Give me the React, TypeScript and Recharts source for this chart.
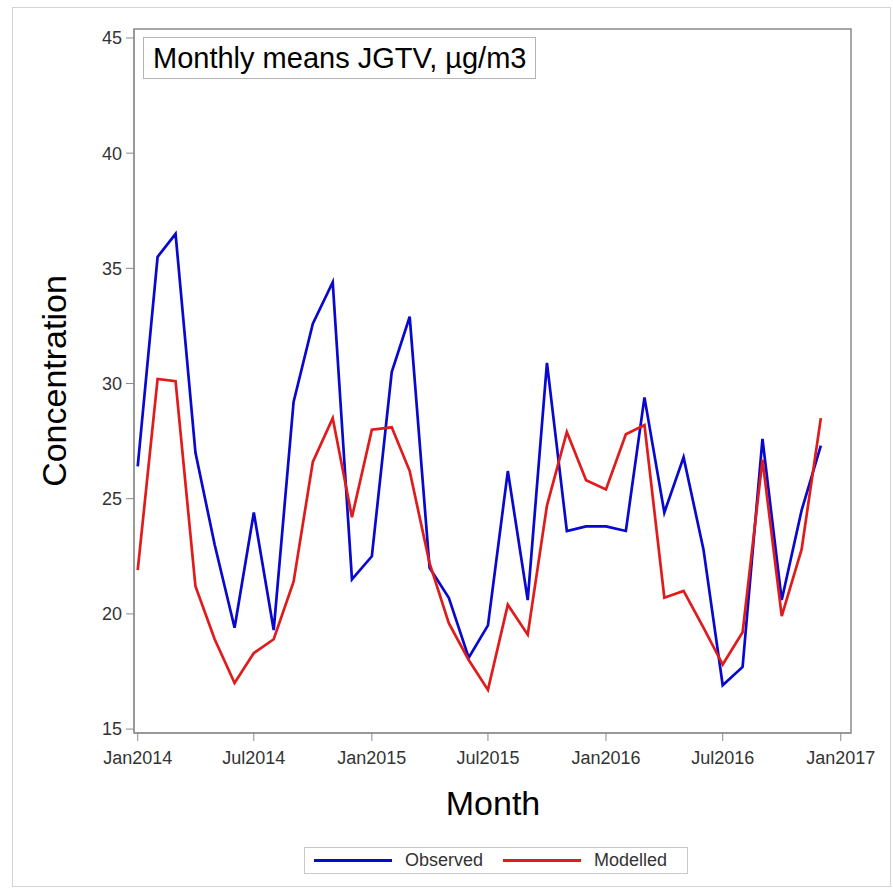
import { LineChart, Line, XAxis, YAxis, ReferenceArea, Legend } from 'recharts'

// monthly means, first of each month
const MONTHS = [
  '2014-01', '2014-02', '2014-03', '2014-04', '2014-05', '2014-06',
  '2014-07', '2014-08', '2014-09', '2014-10', '2014-11', '2014-12',
  '2015-01', '2015-02', '2015-03', '2015-04', '2015-05', '2015-06',
  '2015-07', '2015-08', '2015-09', '2015-10', '2015-11', '2015-12',
  '2016-01', '2016-02', '2016-03', '2016-04', '2016-05', '2016-06',
  '2016-07', '2016-08', '2016-09', '2016-10', '2016-11', '2016-12',
]

const OBSERVED = [
  26.4, 35.5, 36.5, 27.0, 23.0, 19.4, 24.4, 19.3, 29.2, 32.6, 34.4, 21.5,
  22.5, 30.5, 32.9, 22.0, 20.7, 18.1, 19.5, 26.2, 20.6, 30.9, 23.6, 23.8,
  23.8, 23.6, 29.4, 24.4, 26.8, 22.8, 16.9, 17.7, 27.6, 20.6, 24.5, 27.3,
]

const MODELLED = [
  21.9, 30.2, 30.1, 21.2, 18.9, 17.0, 18.3, 18.9, 21.4, 26.6, 28.5, 24.2,
  28.0, 28.1, 26.2, 22.2, 19.6, 18.0, 16.7, 20.4, 19.1, 24.7, 27.9, 25.8,
  25.4, 27.8, 28.2, 20.7, 21.0, 19.4, 17.8, 19.2, 26.7, 19.9, 22.8, 28.5,
]

const SERIES_ORDER = ['Observed', 'Modelled']
const X_TICKS = ['2014-01', '2014-07', '2015-01', '2015-07', '2016-01', '2016-07', '2017-01']
const X_TICK_LABELS = ['Jan2014', 'Jul2014', 'Jan2015', 'Jul2015', 'Jan2016', 'Jul2016', 'Jan2017']
const Y_TICKS = [15, 20, 25, 30, 35, 40, 45]

const DAY = 86400000
const toTime = (ym: string) => {
  const [y, m] = ym.split('-').map(Number)
  return Date.UTC(y, m - 1, 1)
}

const data = MONTHS.map((m, i) => ({
  t: toTime(m),
  observed: OBSERVED[i],
  modelled: MODELLED[i],
}))

const tickTimes = X_TICKS.map(toTime)
const X_DOMAIN = [toTime('2014-01') - 5.8 * DAY, toTime('2017-01') + 16 * DAY]
const Y_DOMAIN = [14.83, 45.39]

const FONT = '"Liberation Sans", Arial, sans-serif'
const TICK = { fill: '#333', fontSize: 18, fontFamily: FONT }
const AXIS_GREY = '#8a8a8a'
const LEGEND_H = 27

function LegendBox({ payload }: any) {
  const items = [...(payload || [])].sort(
    (a: any, b: any) => SERIES_ORDER.indexOf(a.value) - SERIES_ORDER.indexOf(b.value),
  )
  return (
    <div style={{
      display: 'flex', alignItems: 'center', border: '1px solid #c8c8c8',
      height: LEGEND_H, padding: '0 0 0 9px', fontFamily: FONT, fontSize: 18, color: '#333',
      background: '#fff', boxSizing: 'border-box',
    }}>
      {items.map((p: any) => (
        <span key={p.value} style={{ display: 'flex', alignItems: 'center' }}>
          <span style={{ width: 78, height: 3, background: p.color, display: 'inline-block', marginRight: 13 }} />
          <span style={{ marginRight: 20 }}>{p.value}</span>
        </span>
      ))}
    </div>
  )
}

export default function App() {
  return (
    <div style={{ position: 'absolute', left: 0, top: 0, width: 893, height: 891, background: '#fff' }}>
      <div style={{
        position: 'absolute', left: 12, top: 7, width: 879, height: 880,
        border: '1px solid #d4d4d4', boxSizing: 'border-box',
      }} />
      <LineChart
        width={893}
        height={891}
        data={data}
        margin={{ top: 29, right: 42, bottom: 128 - LEGEND_H, left: 74 }}
        style={{ position: 'absolute', left: 0, top: 0 }}
      >
        <XAxis
          dataKey="t"
          type="number"
          domain={X_DOMAIN}
          allowDataOverflow
          ticks={tickTimes}
          tickFormatter={(v: number) => X_TICK_LABELS[tickTimes.indexOf(v)] ?? ''}
          tick={TICK}
          tickSize={8}
          tickMargin={10}
          height={30}
          stroke={AXIS_GREY}
          interval={0}
        />
        <YAxis
          type="number"
          domain={Y_DOMAIN}
          allowDataOverflow
          ticks={Y_TICKS}
          tick={TICK}
          tickSize={8}
          tickMargin={4}
          width={60}
          stroke={AXIS_GREY}
          interval={0}
        />
        <ReferenceArea
          x1={X_DOMAIN[0]}
          x2={X_DOMAIN[1]}
          y1={Y_DOMAIN[0]}
          y2={Y_DOMAIN[1]}
          fill="none"
          stroke={AXIS_GREY}
          strokeWidth={1.5}
          ifOverflow="visible"
        />
        <Line
          dataKey="observed"
          name="Observed"
          stroke="#0808cf"
          strokeWidth={2.7}
          dot={false}
          isAnimationActive={false}
        />
        <Line
          dataKey="modelled"
          name="Modelled"
          stroke="#e01b1b"
          strokeWidth={2.7}
          dot={false}
          isAnimationActive={false}
        />
        <Legend
          content={<LegendBox />}
          wrapperStyle={{ position: 'absolute', left: 304, top: 847, width: 'auto', bottom: 'auto' }}
        />
      </LineChart>

      {/* inset title */}
      <div style={{
        position: 'absolute', left: 143, top: 37, height: 42, padding: '0 9px',
        border: '1px solid #b4b4b4', background: '#fff', boxSizing: 'border-box',
        display: 'flex', alignItems: 'center',
        fontFamily: FONT, fontSize: 29, color: '#000', whiteSpace: 'nowrap',
      }}>
        Monthly means JGTV, µg/m3
      </div>

      {/* axis titles */}
      <div style={{
        position: 'absolute', left: 54, top: 381, transform: 'translate(-50%, -50%) rotate(-90deg)',
        fontFamily: FONT, fontSize: 34, color: '#000', whiteSpace: 'nowrap',
      }}>
        Concentration
      </div>
      <div style={{
        position: 'absolute', left: 493, top: 803, transform: 'translate(-50%, -50%)',
        fontFamily: FONT, fontSize: 34, color: '#000', whiteSpace: 'nowrap',
      }}>
        Month
      </div>
    </div>
  )
}
